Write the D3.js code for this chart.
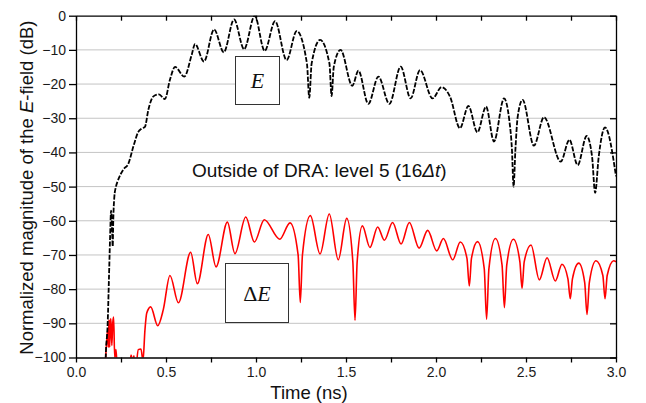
<!DOCTYPE html>
<html lang="en">
<head>
    <meta charset="UTF-8">
    <title>Normalized E-field, outside of DRA</title>
    <script src="https://d3js.org/d3.v7.min.js"></script>
    <style>
        body {
            margin: 0;
            background: #fff;
        }
        svg {
            display: block;
            font-family: Arial, "Liberation Sans", sans-serif;
        }
        .grid line {
            stroke: #c4c4c4;
            stroke-width: 1px;
        }
        .axis path, .axis line {
            stroke: #000;
            stroke-width: 1.3px;
        }
        .axis text {
            font-size: 14px;
            fill: #1a1a1a;
        }
        .eLine {
            fill: none;
            stroke: #000;
            stroke-width: 1.8px;
            stroke-dasharray: 5 1.6;
        }
        .dLine {
            fill: none;
            stroke: #ff0000;
            stroke-width: 1.6px;
        }
        .label {
            font-size: 18.5px;
            fill: #111;
        }
        .note {
            font-size: 19px;
            fill: #111;
        }
        .tag rect {
            fill: #fff;
            stroke: #333;
            stroke-width: 1px;
        }
        .tag text {
            font-family: "Liberation Serif", "DejaVu Serif", serif;
            font-size: 22px;
            fill: #111;
        }
    </style>
</head>
<body>
<div id="chart"></div>

<script>
    // tick values
    var xTicks = [0, 0.5, 1.0, 1.5, 2.0, 2.5, 3.0];
    var xMinor = [0, 0.25, 0.5, 0.75, 1.0, 1.25, 1.5, 1.75, 2.0, 2.25, 2.5, 2.75, 3.0];
    var yTicks = [0, -10, -20, -30, -40, -50, -60, -70, -80, -90, -100];

    // E (black dashed), [time ns, dB]
    var eField = [
        [0.160, -110], [0.165, -100], [0.176, -90], [0.183, -77], [0.189, -65.5], [0.195, -57],
        [0.200, -62], [0.204, -67.5], [0.207, -60], [0.213, -53], [0.222, -50],
        [0.231, -48.5], [0.263, -45], [0.291, -43.3], [0.319, -38.2], [0.346, -34],
        [0.365, -33], [0.383, -32.5], [0.402, -27.5], [0.430, -23.6], [0.461, -23],
        [0.494, -24.4], [0.522, -18.7], [0.550, -15], [0.602, -17.8], [0.643, -11.4],
        [0.661, -8.3], [0.711, -13.4], [0.767, -4.0], [0.821, -10.7], [0.878, -1.1],
        [0.934, -9.8], [0.993, 0], [1.048, -10.3], [1.106, -1.6], [1.170, -13],
        [1.226, -4.5], [1.283, -14], [1.296, -24], [1.309, -14], [1.356, -7.1],
        [1.408, -14], [1.420, -23.5], [1.432, -15], [1.470, -10], [1.535, -20.5],
        [1.569, -16.1], [1.624, -25.8], [1.680, -17.8], [1.741, -25.8], [1.804, -14.9],
        [1.859, -24.2], [1.911, -15.9], [1.981, -24.2], [2.031, -20.9], [2.078, -23.7],
        [2.133, -32.9], [2.180, -26.4], [2.230, -34.1], [2.278, -26.6], [2.322, -36.8],
        [2.378, -24.2], [2.407, -30.5], [2.422, -39.3], [2.431, -50], [2.441, -39.3],
        [2.454, -29.5], [2.481, -24.6], [2.544, -38], [2.600, -29.7], [2.693, -42.7],
        [2.741, -36.3], [2.787, -43.7], [2.837, -35.2], [2.867, -41.2], [2.884, -51.8],
        [2.904, -41.2], [2.939, -32.7], [3.000, -47]
    ];

    // delta E (red), [time ns, dB]; values below -100 fall off the axis
    var deltaE = [
        [0.160, -110], [0.165, -100], [0.170, -96], [0.176, -92], [0.180, -97], [0.183, -89],
        [0.187, -97], [0.191, -89.5], [0.194, -88.7], [0.199, -96.5], [0.204, -90],
        [0.209, -88.2], [0.215, -100], [0.222, -97.7], [0.230, -104], [0.260, -110],
        [0.295, -104], [0.306, -99.3], [0.315, -101], [0.322, -99.5], [0.330, -104],
        [0.346, -97.7], [0.361, -97.5], [0.372, -101], [0.383, -92], [0.393, -87], [0.415, -85.2],
        [0.454, -90.7], [0.485, -86], [0.522, -76], [0.569, -84], [0.637, -69.2],
        [0.674, -78.4], [0.735, -64], [0.778, -73.5], [0.841, -60.4], [0.883, -69.6],
        [0.943, -58.9], [0.991, -66.2], [1.046, -59.7], [1.132, -65.4], [1.189, -60.6],
        [1.234, -70], [1.246, -83.9], [1.258, -70], [1.302, -58.5], [1.356, -69.7],
        [1.407, -58], [1.457, -71.4], [1.504, -59.3], [1.538, -72], [1.550, -89.1],
        [1.562, -72], [1.591, -61.5], [1.633, -67.8], [1.676, -61.8], [1.713, -65.7],
        [1.759, -60.5], [1.806, -66.8], [1.852, -60.5], [1.906, -68], [1.954, -62.8],
        [2.004, -68.8], [2.041, -65.2], [2.093, -71.4], [2.135, -66.2], [2.172, -71],
        [2.185, -79.1], [2.197, -71], [2.231, -66.1], [2.268, -74], [2.281, -88.8],
        [2.294, -74], [2.330, -65.2], [2.367, -73], [2.380, -85.4], [2.393, -73],
        [2.430, -65.4], [2.466, -72], [2.478, -79.8], [2.490, -72], [2.528, -67.1],
        [2.574, -77.3], [2.617, -70.8], [2.663, -77.6], [2.700, -72.7], [2.733, -77],
        [2.746, -82.8], [2.758, -77], [2.793, -72.4], [2.826, -78], [2.839, -87.4],
        [2.852, -78], [2.889, -71.7], [2.927, -76], [2.939, -82.8], [2.951, -76],
        [2.987, -71.7], [3.000, -72]
    ];

    function init() {
        var w = 646;
        var h = 403;
        var left = 76, right = 616, top = 15.7, bottom = 357.5;

        var xScale = d3.scaleLinear().domain([0, 3]).range([left, right]);
        var yScale = d3.scaleLinear().domain([-100, 0]).range([bottom, top]);

        var svg = d3.select("#chart")
            .append("svg")
            .attr("width", w)
            .attr("height", h);

        svg.append("defs").append("clipPath")
            .attr("id", "plotClip")
            .append("rect")
            .attr("x", left)
            .attr("y", top)
            .attr("width", right - left)
            .attr("height", bottom - top);

        // horizontal grid
        svg.append("g")
            .attr("class", "grid")
            .selectAll("line")
            .data(yTicks.slice(1, -1))
            .enter()
            .append("line")
            .attr("x1", left)
            .attr("x2", right)
            .attr("y1", function(d) { return yScale(d); })
            .attr("y2", function(d) { return yScale(d); });

        var line = d3.line()
            .x(function(d) { return xScale(d[0]); })
            .y(function(d) { return yScale(d[1]); })
            .curve(d3.curveMonotoneX);

        var plot = svg.append("g").attr("clip-path", "url(#plotClip)");

        plot.append("path")
            .datum(deltaE)
            .attr("class", "dLine")
            .attr("d", line);

        plot.append("path")
            .datum(eField)
            .attr("class", "eLine")
            .attr("d", line);

        // axes
        svg.append("g")
            .attr("class", "axis")
            .attr("transform", "translate(0," + bottom + ")")
            .call(d3.axisBottom(xScale)
                .tickValues(xMinor)
                .tickSizeInner(5)
                .tickSizeOuter(0)
                .tickPadding(5)
                .tickFormat(function(d) {
                    return xTicks.indexOf(d) >= 0 ? d3.format(".1f")(d) : "";
                }));

        svg.append("g")
            .attr("class", "axis")
            .attr("transform", "translate(0," + top + ")")
            .call(d3.axisTop(xScale)
                .tickValues(xMinor)
                .tickSizeInner(-5)
                .tickSizeOuter(0)
                .tickFormat(""));

        svg.append("g")
            .attr("class", "axis")
            .attr("transform", "translate(" + left + ",0)")
            .call(d3.axisLeft(yScale)
                .tickValues(yTicks)
                .tickSizeInner(7)
                .tickSizeOuter(0)
                .tickPadding(3));

        svg.append("g")
            .attr("class", "axis")
            .attr("transform", "translate(" + right + ",0)")
            .call(d3.axisRight(yScale)
                .tickValues(yTicks)
                .tickSizeInner(-6)
                .tickSizeOuter(0)
                .tickFormat(""));

        // axis titles
        svg.append("text")
            .attr("class", "label")
            .attr("x", 309)
            .attr("y", 399)
            .attr("text-anchor", "middle")
            .text("Time (ns)");

        var yLab = svg.append("text")
            .attr("class", "label")
            .attr("text-anchor", "middle")
            .attr("transform", "translate(33," + ((top + bottom) / 2 + 1) + ") rotate(-90)");
        yLab.append("tspan").text("Normalized magnitude of the ");
        yLab.append("tspan").attr("font-style", "italic").text("E");
        yLab.append("tspan").text("-field (dB)");

        // annotation
        var note = svg.append("text")
            .attr("class", "note")
            .attr("x", 192)
            .attr("y", 177);
        note.append("tspan").text("Outside of DRA: level 5 (16");
        note.append("tspan").attr("font-style", "italic").text("\u0394t");
        note.append("tspan").text(")");

        // boxed labels
        var tagE = svg.append("g").attr("class", "tag");
        tagE.append("rect")
            .attr("x", 235.5).attr("y", 56.5)
            .attr("width", 44).attr("height", 48);
        tagE.append("text")
            .attr("x", 257.5).attr("y", 88)
            .attr("text-anchor", "middle")
            .attr("font-style", "italic")
            .text("E");

        var tagD = svg.append("g").attr("class", "tag");
        tagD.append("rect")
            .attr("x", 225.5).attr("y", 263.5)
            .attr("width", 63).attr("height", 59);
        var dText = tagD.append("text")
            .attr("x", 257).attr("y", 300.5)
            .attr("text-anchor", "middle");
        dText.append("tspan").text("\u0394");
        dText.append("tspan").attr("font-style", "italic").text("E");
    }

    init();
</script>
</body>
</html>
